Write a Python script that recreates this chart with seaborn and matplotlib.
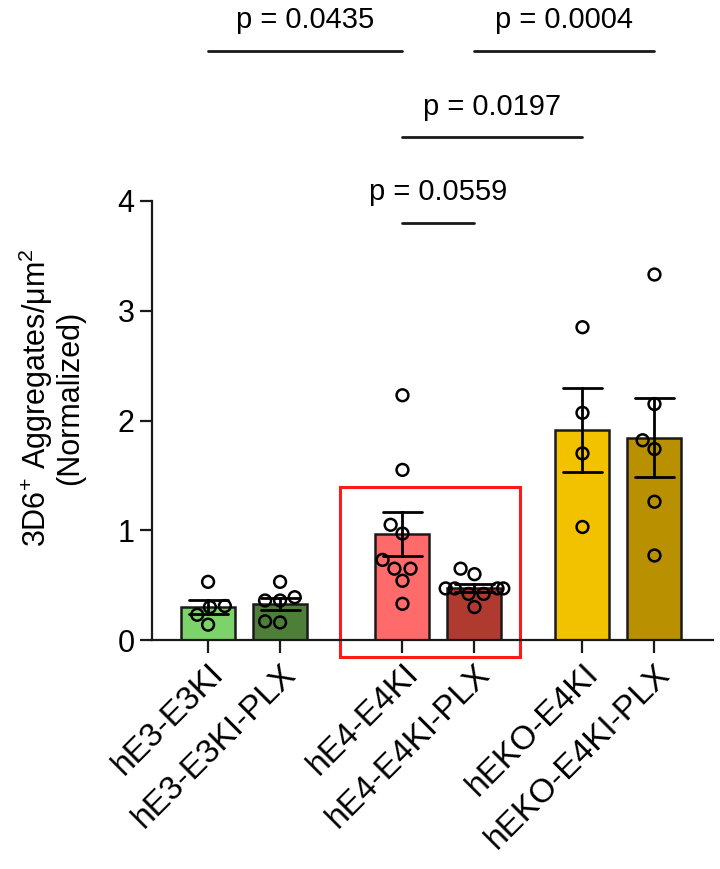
import matplotlib
matplotlib.use("Agg")
import matplotlib.pyplot as plt
import seaborn as sns
import pandas as pd
from matplotlib.patches import Rectangle

# ---- data ----
groups = ["hE3-E3KI", "hE3-E3KI-PLX", "hE4-E4KI", "hE4-E4KI-PLX",
          "hEKO-E4KI", "hEKO-E4KI-PLX"]
vals_hE3 = [0.53, 0.31, 0.30, 0.23, 0.14]
vals_hE3_plx = [0.53, 0.39, 0.36, 0.36, 0.16, 0.17]
vals_hE4 = [2.23, 1.55, 1.05, 0.97, 0.73, 0.65, 0.65, 0.54, 0.33]
vals_hE4_plx = [0.65, 0.60, 0.47, 0.47, 0.47, 0.47, 0.42, 0.42, 0.30]
vals_hEKO = [2.85, 2.07, 1.70, 1.03]
vals_hEKO_plx = [3.33, 2.15, 1.82, 1.74, 1.26, 0.77]
all_vals = [vals_hE3, vals_hE3_plx, vals_hE4, vals_hE4_plx, vals_hEKO, vals_hEKO_plx]

comparisons = [("hE3-E3KI", "hE4-E4KI"), ("hE4-E4KI-PLX", "hEKO-E4KI-PLX"),
               ("hE4-E4KI", "hEKO-E4KI"), ("hE4-E4KI", "hE4-E4KI-PLX")]
p_labels = ["p = 0.0435", "p = 0.0004", "p = 0.0197", "p = 0.0559"]

# ---- layout / style ----
positions = [0, 1, 2.7, 3.7, 5.2, 6.2]
colors = ["#7DD36A", "#4E7F3A", "#FF6B6B", "#B03A30", "#F2C200", "#B89000"]
bracket_y = [5.37, 5.37, 4.58, 3.80]

pos_map = dict(zip(groups, positions))
rows = []
for g, vs in zip(groups, all_vals):
    for v in vs:
        rows.append({"group": g, "pos": pos_map[g], "value": v})
df = pd.DataFrame(rows)

sns.set_style("ticks")
plt.rcParams["font.family"] = ["Liberation Sans", "DejaVu Sans"]
plt.rcParams["mathtext.fontset"] = "custom"
plt.rcParams["mathtext.rm"] = "Liberation Sans"
plt.rcParams["mathtext.it"] = "Liberation Sans:italic"
plt.rcParams["text.color"] = "black"
plt.rcParams["xtick.color"] = "#1a1a1a"
plt.rcParams["ytick.color"] = "#1a1a1a"
plt.rcParams["xtick.labelcolor"] = "black"
plt.rcParams["ytick.labelcolor"] = "black"

fig = plt.figure(figsize=(7.2, 8.69), dpi=100)
ax = fig.add_axes([0.211, 0.2635, 0.779, 0.5052])

sns.barplot(data=df, x="pos", y="value", hue="group", palette=dict(zip(groups, colors)),
            native_scale=True, dodge=False, width=0.75, errorbar="se", saturation=1,
            capsize=0.54, err_kws={"color": "black", "linewidth": 2.0},
            edgecolor="#1a1a1a", linewidth=1.8, legend=False, ax=ax)
sns.swarmplot(data=df, x="pos", y="value", native_scale=True, color="black",
              size=8.5, linewidth=1.8, edgecolor="black", ax=ax)
for coll in ax.collections:
    coll.set_facecolor("none")
    coll.set_edgecolor("black")

ax.set_xlim(-0.78, 7.01)
ax.set_ylim(0, 4)
ax.set_yticks([0, 1, 2, 3, 4])
ax.set_xticks(positions)
ax.set_xticklabels(groups, rotation=45, ha="right", rotation_mode="anchor")
ax.tick_params(axis="both", width=1.6, length=9)
ax.tick_params(axis="y", labelsize=22)
ax.tick_params(axis="x", labelsize=24, pad=4)
for s in ["left", "bottom"]:
    ax.spines[s].set_linewidth(1.6)
    ax.spines[s].set_color("#1a1a1a")
sns.despine(ax=ax)
ax.set_xlabel("")
ax.set_ylabel("")
fig.text(0.071, 1 - 398 / 869, "3D6$^{+}$ Aggregates/μm$^{2}$\n(Normalized)",
         rotation=90, ha="center", va="center", multialignment="center",
         fontsize=22, linespacing=1.0)

# significance brackets
for (a, b), lab, yb in zip(comparisons, p_labels, bracket_y):
    xa, xb = pos_map[a], pos_map[b]
    ax.plot([xa, xb], [yb, yb], color="#1a1a1a", lw=2, clip_on=False)
    ax.text((xa + xb) / 2, yb + 0.15, lab, ha="center", va="bottom",
            fontsize=21, clip_on=False)

# highlight box
ax.add_patch(Rectangle((1.83, -0.155), 2.50, 1.545, fill=False,
                       edgecolor="#FF1A1A", linewidth=2.2, clip_on=False))

fig.savefig("out.png", dpi=100)
